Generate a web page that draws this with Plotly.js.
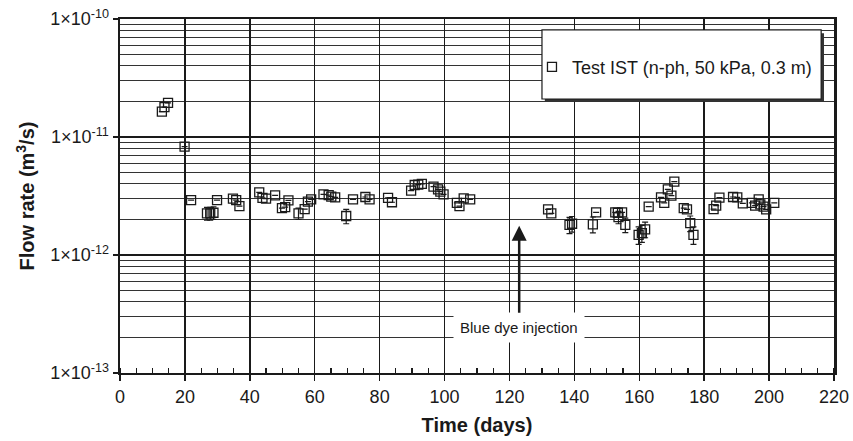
<!DOCTYPE html>
<html>
<head>
<meta charset="utf-8">
<script src="https://cdn.plot.ly/plotly-3.0.1.min.js"></script>
<style>html,body{margin:0;padding:0;background:#fff;}#chart{width:853px;height:441px;}</style>
</head>
<body>
<div id="chart"></div>
<script>
// Time (days)
const days = [12.9, 13.7, 14.8, 19.9, 21.9, 26.8, 27.8, 28.8, 29.9, 34.8, 35.8, 36.8,
  42.9, 43.9, 45.0, 47.8, 49.9, 50.9, 51.9, 55.0, 56.9, 57.9, 58.9, 62.7, 64.3, 65.1, 66.3,
  69.7, 71.8, 75.6, 76.9, 82.6, 83.8, 89.7, 90.8, 91.9, 93.0, 96.6, 98.0, 98.7, 99.7,
  103.8, 104.6, 105.9, 107.9, 131.9, 132.9, 138.5, 139.3, 145.7, 146.7, 152.6, 153.4, 153.6,
  154.7, 155.7, 159.8, 160.8, 161.8, 162.9, 166.7, 167.7, 168.8, 169.9, 170.8, 173.7, 174.7,
  175.7, 176.7, 182.9, 183.7, 184.7, 188.9, 190.2, 191.9, 194.7, 195.7, 196.8, 197.3, 198.3,
  199.1, 201.6];
// Flow rate (m3/s)
const flow = [1.64e-11, 1.79e-11, 1.95e-11, 8.3e-12, 2.92e-12, 2.25e-12, 2.25e-12, 2.28e-12, 2.92e-12, 3.0e-12, 2.92e-12, 2.6e-12,
  3.4e-12, 3.05e-12, 3.0e-12, 3.2e-12, 2.5e-12, 2.55e-12, 2.9e-12, 2.25e-12, 2.45e-12, 2.83e-12, 2.96e-12, 3.27e-12, 3.22e-12, 3.12e-12, 3.08e-12,
  2.14e-12, 2.96e-12, 3.1e-12, 2.96e-12, 3.05e-12, 2.8e-12, 3.51e-12, 3.92e-12, 3.95e-12, 4.0e-12, 3.79e-12, 3.6e-12, 3.44e-12, 3.27e-12,
  2.77e-12, 2.6e-12, 3.02e-12, 2.96e-12, 2.44e-12, 2.25e-12, 1.8e-12, 1.84e-12, 1.82e-12, 2.3e-12, 2.3e-12, 2.28e-12, 2.09e-12,
  2.3e-12, 1.8e-12, 1.48e-12, 1.53e-12, 1.65e-12, 2.57e-12, 3.08e-12, 2.77e-12, 3.6e-12, 3.18e-12, 4.18e-12, 2.5e-12, 2.44e-12,
  1.86e-12, 1.48e-12, 2.45e-12, 2.62e-12, 3.06e-12, 3.1e-12, 3.08e-12, 2.74e-12, 2.77e-12, 2.62e-12, 2.96e-12, 2.69e-12, 2.57e-12,
  2.44e-12, 2.77e-12];
// Error (m3/s), null = no error bar
const flowErr = [null, null, null, null, null, 0.28e-12, 0.28e-12, 0.28e-12, null, null, null, null,
  null, null, null, null, null, null, null, 0.25e-12, null, null, null, null, null, null, null,
  0.3e-12, null, null, null, null, null, null, null, null, null, null, null, null, null,
  null, null, null, null, null, null, 0.28e-12, 0.28e-12, 0.28e-12, null, null, null, 0.25e-12,
  null, 0.25e-12, 0.25e-12, 0.25e-12, 0.25e-12, null, null, null, null, null, null, null, null,
  0.28e-12, 0.25e-12, null, null, null, null, null, null, null, null, null, null, null,
  null, null];

const seriesName = 'Test IST (n-ph, 50 kPa, 0.3 m)';
const yTickVals = [1e-13, 1e-12, 1e-11, 1e-10];
const yTickText = ['1×10<sup>-13</sup>', '1×10<sup>-12</sup>', '1×10<sup>-11</sup>', '1×10<sup>-10</sup>'];
const injectionDay = 123;
const injectionFlow = 1.77e-12;
const injectionLabel = 'Blue dye injection';

const FONT = 'Liberation Sans, Arial, Helvetica, sans-serif';
const INK = '#1a1a1a';

const trace = {
  x: days, y: flow, type: 'scatter', mode: 'markers', name: seriesName,
  marker: {symbol: 'square-open', size: 9, color: INK, line: {width: 1.3, color: INK}},
  error_y: {type: 'data', array: flowErr, visible: true, color: INK, thickness: 1.2, width: 3},
  showlegend: true
};

const layout = {
  width: 853, height: 441,
  margin: {l: 120, r: 19, t: 19, b: 68},
  paper_bgcolor: '#fff', plot_bgcolor: '#fff',
  font: {family: FONT, color: INK, size: 18},
  showlegend: true,
  legend: {x: 0.5770, y: 0.864, xanchor: 'left', yanchor: 'middle', bgcolor: 'rgba(0,0,0,0)',
    borderwidth: 0, font: {size: 18, family: FONT, color: INK}, itemwidth: 30},
  xaxis: {
    range: [0, 220], dtick: 20, tick0: 0,
    ticks: 'outside', ticklen: 6, tickwidth: 1.5, tickcolor: INK,
    showgrid: true, gridcolor: INK, gridwidth: 1.5,
    showline: true, linewidth: 2, linecolor: INK, mirror: true, zeroline: false,
    minor: {dtick: 5, tick0: 0, ticks: 'inside', ticklen: 5, tickwidth: 1.2, tickcolor: INK, showgrid: false},
    tickfont: {size: 18},
    title: {text: 'Time (days)', font: {size: 20, family: FONT, weight: 'bold', color: INK}, standoff: 12}
  },
  yaxis: {
    type: 'log', range: [-13, -10],
    tickmode: 'array', tickvals: yTickVals, ticktext: yTickText,
    ticks: 'outside', ticklen: 5, tickwidth: 1.5, tickcolor: INK,
    showgrid: true, gridcolor: INK, gridwidth: 1.5,
    showline: true, linewidth: 2.5, linecolor: INK, mirror: true, zeroline: false,
    minor: {dtick: 'D1', showgrid: true, gridcolor: '#333', gridwidth: 1, ticks: ''},
    tickfont: {size: 18},
    title: {text: 'Flow rate (m<sup>3</sup>/s)', font: {size: 20, family: FONT, weight: 'bold', color: INK}, standoff: 10}
  },
  shapes: [
    {type: 'rect', xref: 'paper', yref: 'paper', x0: 0.595, x1: 0.986, y0: 0.766, y1: 0.960,
      fillcolor: '#333', line: {width: 0}, layer: 'above'},
    {type: 'rect', xref: 'paper', yref: 'paper', x0: 0.591, x1: 0.982, y0: 0.774, y1: 0.969,
      fillcolor: '#fff', line: {width: 1.2, color: INK}, layer: 'above'}
  ],
  annotations: [
    {x: injectionDay, y: Math.log10(injectionFlow), xref: 'x', yref: 'y',
      text: injectionLabel, showarrow: true, arrowhead: 2, arrowsize: 1.2, arrowwidth: 2.5,
      arrowcolor: INK, ax: 0, ay: 102, bgcolor: '#fff', borderpad: 6,
      font: {size: 15, family: FONT, color: INK}}
  ]
};

Plotly.newPlot('chart', [trace], layout, {displayModeBar: false, staticPlot: true});
</script>
</body>
</html>
